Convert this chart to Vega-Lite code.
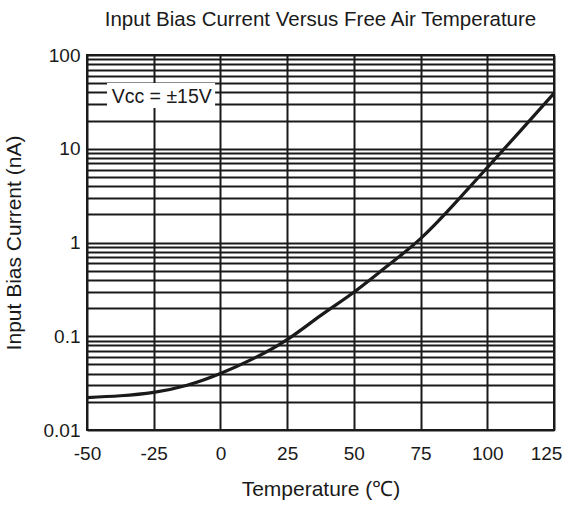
{
  "$schema": "https://vega.github.io/schema/vega-lite/v6.json",
  "width": 467,
  "height": 375,
  "autosize": {"type": "none"},
  "padding": {"left": 87, "top": 55, "right": 12, "bottom": 82},
  "background": "white",
  "config": {
    "font": "Liberation Sans",
    "view": {"stroke": "#1a1a1a", "strokeWidth": 2},
    "axis": {
      "grid": true,
      "gridColor": "#1a1a1a",
      "gridWidth": 2,
      "gridOpacity": 1,
      "ticks": false,
      "domain": false,
      "labelFontSize": 19,
      "labelColor": "#1a1a1a",
      "labelOverlap": false,
      "labelFlush": false,
      "labelBound": false,
      "titleFontSize": 21,
      "titleFontWeight": "normal",
      "titleColor": "#1a1a1a"
    }
  },
  "title": {
    "text": "Input Bias Current Versus Free Air Temperature",
    "fontSize": 20.5,
    "fontWeight": "normal",
    "color": "#1a1a1a",
    "offset": 16,
    "anchor": "middle"
  },
  "datasets": {
    "curve": [
      {"temp": -50, "current": 0.0222},
      {"temp": -37.5, "current": 0.0232},
      {"temp": -25, "current": 0.0252},
      {"temp": -12.5, "current": 0.030},
      {"temp": 0, "current": 0.040},
      {"temp": 12.5, "current": 0.058},
      {"temp": 25, "current": 0.092},
      {"temp": 37.5, "current": 0.166},
      {"temp": 50, "current": 0.295},
      {"temp": 62.5, "current": 0.56},
      {"temp": 75, "current": 1.1},
      {"temp": 87.5, "current": 2.55},
      {"temp": 100, "current": 6.3},
      {"temp": 112.5, "current": 15.6},
      {"temp": 125, "current": 39}
    ],
    "box": [
      {"temp": -42.5, "temp2": -2, "current": 27.2, "current2": 50.2}
    ],
    "note": [
      {"temp": -22, "current": 35.6, "label": "Vcc = ±15V"}
    ]
  },
  "layer": [
    {
      "data": {"name": "curve"},
      "mark": {"type": "line", "color": "#1a1a1a", "strokeWidth": 3.2, "interpolate": "natural", "clip": true},
      "encoding": {
        "x": {
          "field": "temp",
          "type": "quantitative",
          "scale": {"domain": [-50, 125], "nice": false, "zero": false},
          "axis": {
            "values": [-50, -25, 0, 25, 50, 75, 100, 125],
            "labelExpr": "datum.value < 0 ? '-' + abs(datum.value) : '' + datum.value",
            "labelOffset": {"condition": {"test": "datum.value == 125", "value": -8}, "value": 0},
            "labelPadding": 14,
            "title": "Temperature (℃)",
            "titlePadding": 15
          }
        },
        "y": {
          "field": "current",
          "type": "quantitative",
          "scale": {"type": "log", "domain": [0.01, 100], "nice": false},
          "axis": {
            "values": [0.01, 0.02, 0.03, 0.04, 0.05, 0.06, 0.07, 0.08, 0.09,
                       0.1, 0.2, 0.3, 0.4, 0.5, 0.6, 0.7, 0.8, 0.9,
                       1, 2, 3, 4, 5, 6, 7, 8, 9,
                       10, 20, 30, 40, 50, 60, 70, 80, 90, 100],
            "labelExpr": "(datum.value == 0.01 || datum.value == 0.1 || datum.value == 1 || datum.value == 10 || datum.value == 100) ? format(datum.value, '~g') : ''",
            "labelPadding": 7,
            "title": "Input Bias Current (nA)",
            "titlePadding": 19
          }
        }
      }
    },
    {
      "data": {"name": "box"},
      "mark": {"type": "rect", "color": "white"},
      "encoding": {
        "x": {"field": "temp", "type": "quantitative"},
        "x2": {"field": "temp2"},
        "y": {"field": "current", "type": "quantitative"},
        "y2": {"field": "current2"}
      }
    },
    {
      "data": {"name": "note"},
      "mark": {"type": "text", "fontSize": 19.5, "color": "#1a1a1a", "align": "center", "baseline": "middle"},
      "encoding": {
        "x": {"field": "temp", "type": "quantitative"},
        "y": {"field": "current", "type": "quantitative"},
        "text": {"field": "label"}
      }
    }
  ]
}
